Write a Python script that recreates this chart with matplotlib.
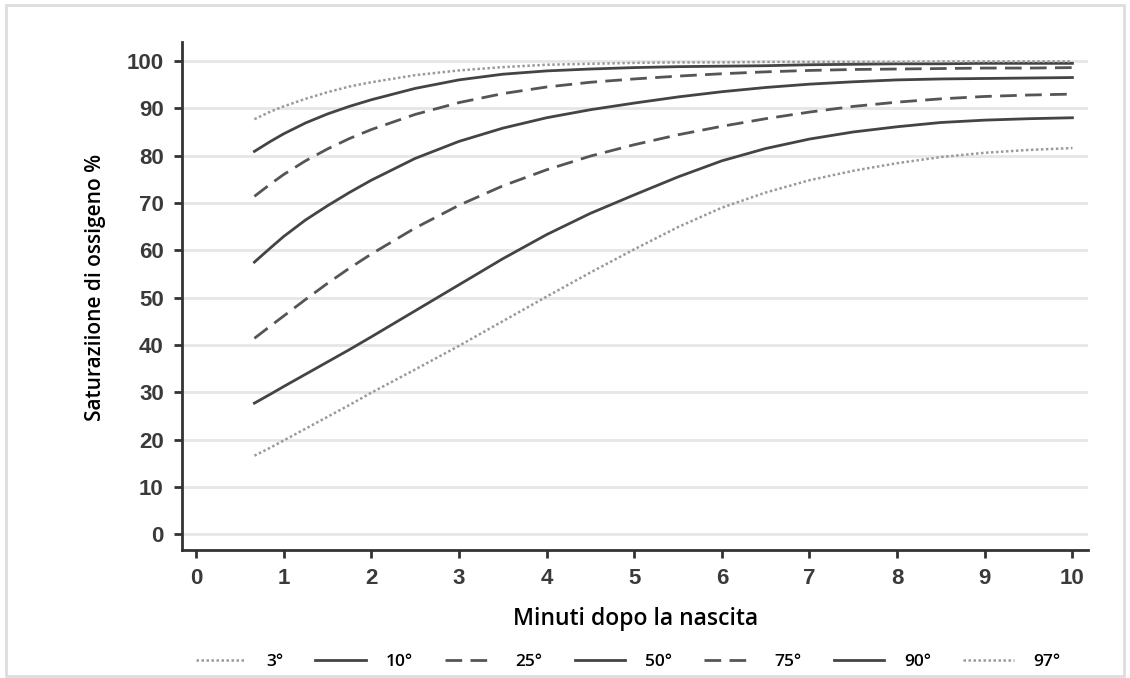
import matplotlib
matplotlib.use("Agg")
import matplotlib.pyplot as plt
from matplotlib.patches import Rectangle

# minuti dopo la nascita
minuti = [0.667, 0.85, 1, 1.25, 1.5, 1.75, 2, 2.5, 3, 3.5, 4, 4.5,
          5, 5.5, 6, 6.5, 7, 7.5, 8, 8.5, 9, 9.5, 10]

# percentili della saturazione (%)
p3 = [16.6, 18.3, 19.8, 22.3, 24.8, 27.3, 29.9, 34.8, 39.8, 45.0, 50.2, 55.3,
      60.2, 64.9, 69.0, 72.2, 74.8, 76.8, 78.4, 79.7, 80.6, 81.2, 81.6]
p10 = [27.7, 29.6, 31.2, 33.8, 36.4, 39.0, 41.7, 47.2, 52.7, 58.2, 63.3, 67.8,
       71.7, 75.5, 78.9, 81.5, 83.5, 85.0, 86.1, 87.0, 87.5, 87.8, 88.0]
p25 = [41.4, 44.0, 46.1, 49.6, 53.0, 56.2, 59.2, 64.7, 69.5, 73.6, 77.0, 79.9,
       82.3, 84.4, 86.2, 87.8, 89.2, 90.4, 91.3, 92.0, 92.5, 92.8, 93.0]
p50 = [57.5, 60.5, 62.9, 66.4, 69.4, 72.2, 74.8, 79.4, 83.0, 85.8, 88.0, 89.7,
       91.1, 92.4, 93.5, 94.4, 95.1, 95.6, 96.0, 96.2, 96.3, 96.4, 96.5]
p75 = [71.4, 74.0, 76.0, 78.9, 81.4, 83.6, 85.5, 88.7, 91.2, 93.1, 94.5, 95.5,
       96.2, 96.8, 97.3, 97.7, 98.0, 98.2, 98.3, 98.4, 98.5, 98.5, 98.6]
p90 = [80.9, 83.0, 84.6, 86.9, 88.8, 90.4, 91.8, 94.2, 96.0, 97.2, 97.9, 98.3,
       98.6, 98.8, 98.9, 99.0, 99.2, 99.3, 99.4, 99.4, 99.5, 99.5, 99.5]
p97 = [87.7, 89.3, 90.4, 92.0, 93.4, 94.6, 95.5, 97.0, 98.0, 98.7, 99.2, 99.4,
       99.6, 99.7, 99.7, 99.8, 99.8, 99.8, 99.8, 99.9, 99.9, 99.9, 99.9]

etichette = ['3°', '10°', '25°', '50°', '75°', '90°', '97°']
serie = [p3, p10, p25, p50, p75, p90, p97]

xticks = list(range(0, 11))
yticks = list(range(0, 101, 10))

fig = plt.figure(figsize=(11.3, 6.78), dpi=100)
ax = fig.add_axes([0.161, 0.189, 0.802, 0.749])

# stili: punteggiato chiaro, continuo scuro, tratteggiato
stili = {
    'dot': dict(color='#9a9a9a', lw=1.8, ls=(0, (1, 1))),
    'solid': dict(color='#444444', lw=2.0, ls='-'),
    'dash': dict(color='#555555', lw=2.0, ls=(0, (6, 3))),
}
tipo = ['dot', 'solid', 'dash', 'solid', 'dash', 'solid', 'dot']

for y, lab, t in zip(serie, etichette, tipo):
    ax.plot(minuti, y, label=lab, **stili[t])

ax.set_xlim(-0.16, 10.18)
ax.set_ylim(-3.3, 104)
ax.set_xticks(xticks)
ax.set_yticks(yticks)
ax.grid(axis='y', color='#e6e6e6', lw=2)
ax.set_axisbelow(True)

for s in ['top', 'right']:
    ax.spines[s].set_visible(False)
for s in ['left', 'bottom']:
    ax.spines[s].set_color('#333333')
    ax.spines[s].set_linewidth(2)

ax.tick_params(axis='both', colors='#333333', width=2, length=6, pad=7)
for lbl in ax.get_xticklabels() + ax.get_yticklabels():
    lbl.set_fontfamily('Liberation Sans')
    lbl.set_fontweight('bold')
    lbl.set_fontsize(16)
    lbl.set_color('#3a3a3a')

ax.set_xlabel('Minuti dopo la nascita', family='Open Sans', fontweight='semibold',
              fontsize=16.5, color='black')
ax.xaxis.set_label_coords(0.501, -0.113)
ax.set_ylabel('Saturaziione di ossigeno %', family='Open Sans', fontweight='semibold',
              fontsize=15, color='black')
ax.yaxis.set_label_coords(-0.084, 0.516)

leg = fig.legend(loc='center', bbox_to_anchor=(0.556, 0.023), ncol=7, frameon=False,
                 handlelength=2.9, handletextpad=1.15, columnspacing=1.85,
                 prop={'family': 'Open Sans', 'weight': 'semibold', 'size': 12.5})

# cornice grigia attorno alla figura
fig.patches.append(Rectangle((0.005, 0.003), 0.99, 0.99, transform=fig.transFigure,
                             fill=False, edgecolor='#dddddd', lw=2))

fig.savefig('out.png', dpi=100)
